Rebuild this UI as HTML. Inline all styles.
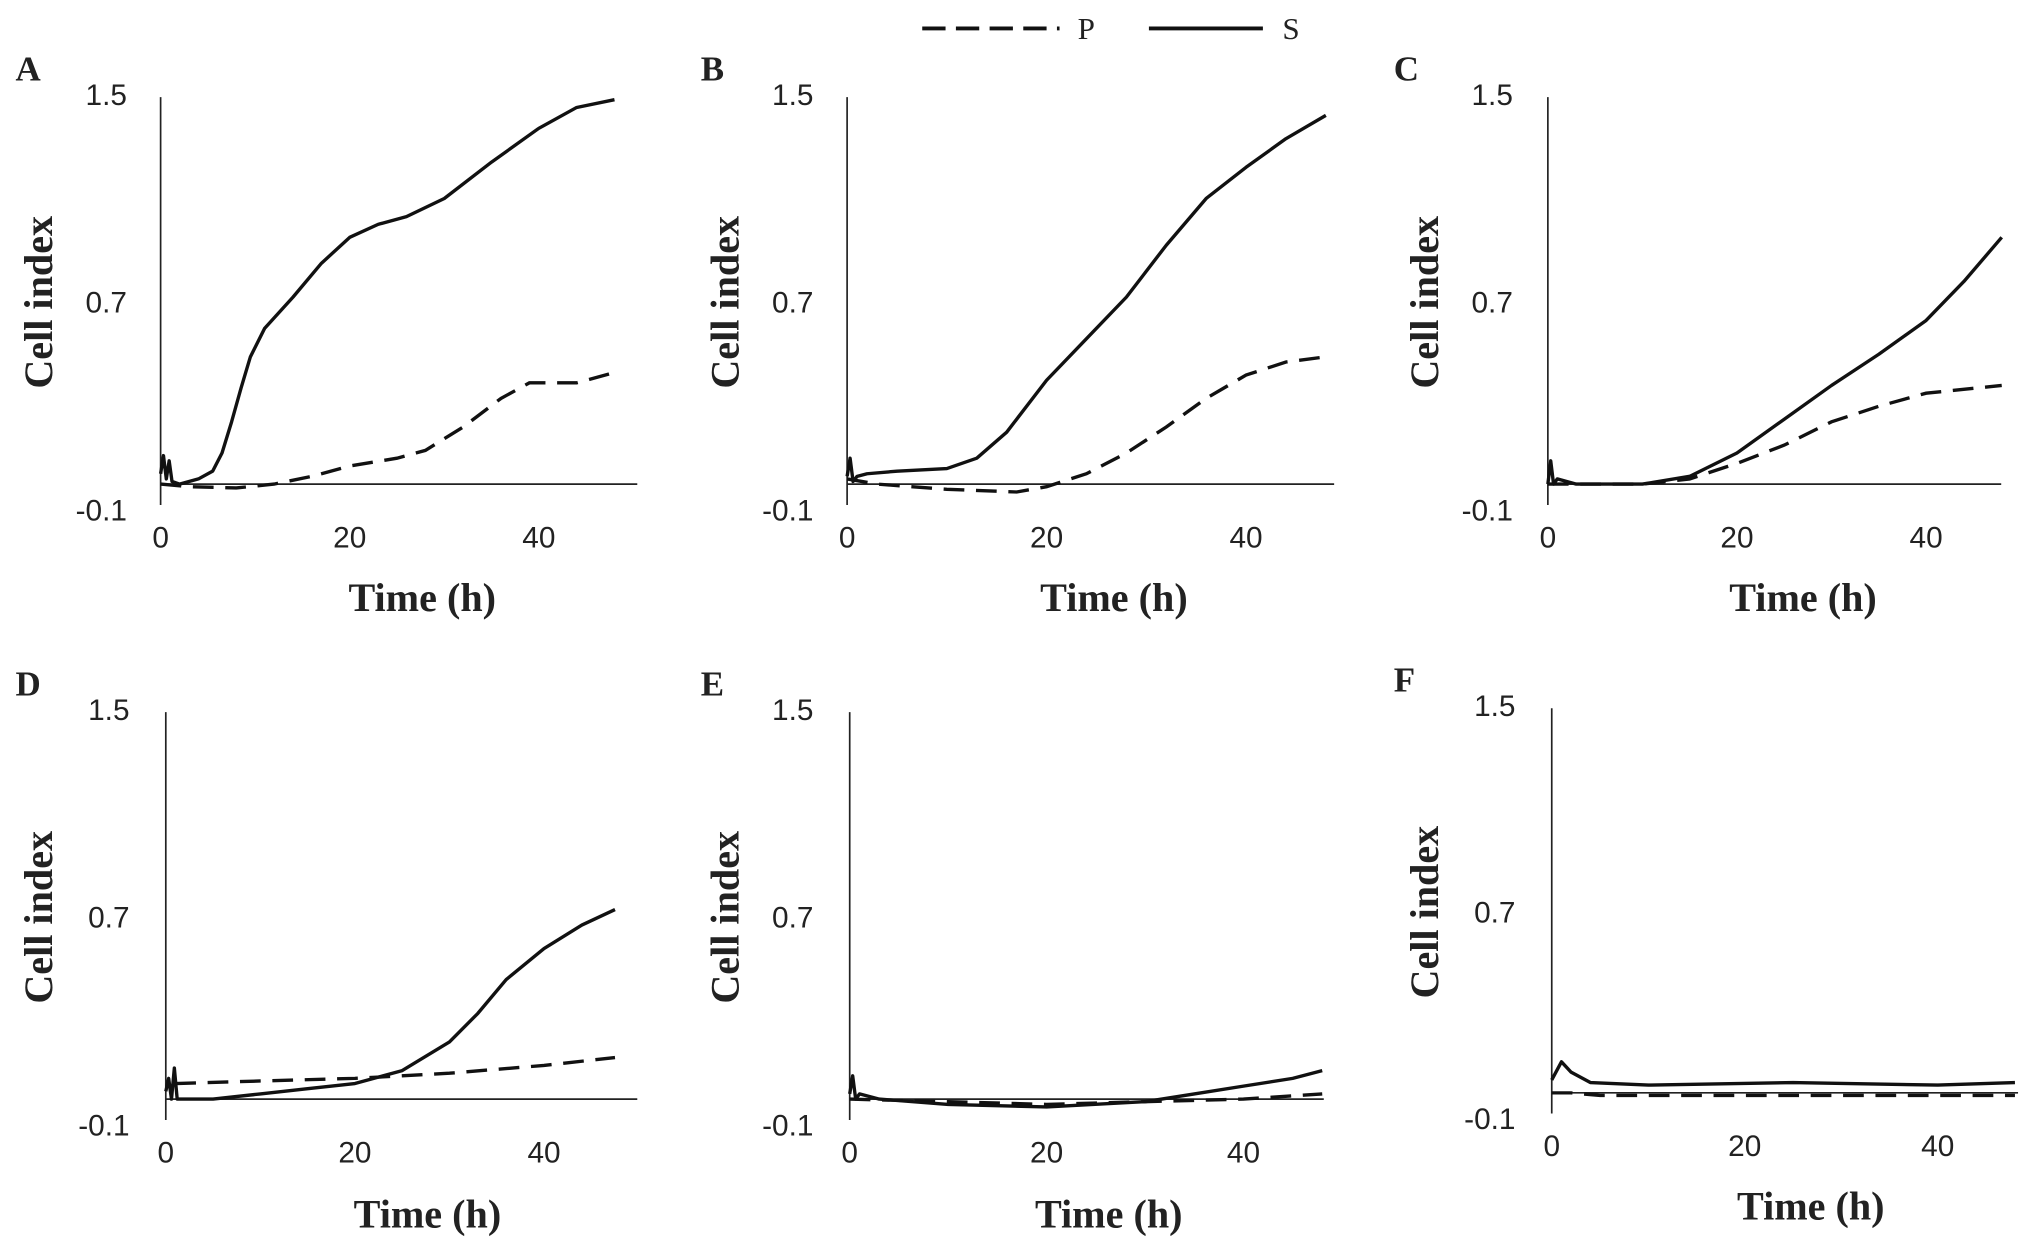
<!DOCTYPE html>
<html><head><meta charset="utf-8"><style>
html,body{margin:0;padding:0;background:#fff;}
svg{display:block;}
.tick{font-family:"Liberation Sans",sans-serif;font-size:23px;fill:#222;}
.title{font-family:"Liberation Serif",serif;font-weight:bold;font-size:31px;fill:#222;}
.letter{font-family:"Liberation Serif",serif;font-weight:bold;font-size:27px;fill:#222;}
</style></head><body>
<svg id="chart" width="2031" height="1252" viewBox="0 0 1568 967" preserveAspectRatio="none" xmlns="http://www.w3.org/2000/svg">
<g>
<line x1="712" y1="22" x2="818" y2="22" stroke="#111" stroke-width="3" stroke-dasharray="18,8"/>
<text class="letter" x="832" y="30" style="font-weight:normal;font-size:24px">P</text>
<line x1="887" y1="22" x2="975" y2="22" stroke="#111" stroke-width="3"/>
<text class="letter" x="990" y="30" style="font-weight:normal;font-size:24px">S</text>
</g>
</svg>
<script>
const panelNames=["A","B","C","D","E","F"];
const yTicks=[1.5,0.7,-0.1];
const xTicks=[0,20,40];
const solidA=[[0,0.04],[0.3,0.11],[0.6,0.02],[0.9,0.09],[1.2,0.01],[2,0.0],[4,0.02],[5.5,0.05],[6.5,0.12],[7.5,0.24],[8.5,0.37],[9.5,0.49],[11,0.6],[14,0.72],[17,0.85],[20,0.95],[23,1.0],[26,1.03],[30,1.1],[35,1.24],[40,1.37],[44,1.45],[48,1.48]];
const dashA=[[0,0.0],[3,-0.01],[8,-0.015],[12,0.0],[16,0.03],[20,0.07],[25,0.1],[28,0.13],[32,0.22],[36,0.33],[39,0.39],[44,0.39],[48,0.43]];
const solidB=[[0,0.03],[0.3,0.1],[0.6,0.01],[1,0.03],[2,0.04],[5,0.05],[10,0.06],[13,0.1],[16,0.2],[20,0.4],[24,0.56],[28,0.72],[32,0.92],[36,1.1],[40,1.22],[44,1.33],[48,1.42]];
const dashB=[[0,0.02],[3,0.0],[10,-0.02],[17,-0.03],[20,-0.01],[24,0.04],[28,0.12],[32,0.22],[36,0.33],[40,0.42],[44,0.47],[48,0.49]];
const solidC=[[0,0.0],[0.3,0.09],[0.6,0.0],[1,0.02],[3,0.0],[10,0.0],[15,0.03],[20,0.12],[25,0.25],[30,0.38],[35,0.5],[40,0.63],[44,0.78],[48,0.95]];
const dashC=[[0,0.0],[10,0.0],[15,0.02],[20,0.08],[25,0.15],[30,0.24],[35,0.3],[40,0.35],[48,0.38]];
const solidD=[[0,0.03],[0.3,0.08],[0.6,0.0],[0.9,0.12],[1.2,0.0],[5,0.0],[10,0.02],[15,0.04],[20,0.06],[25,0.11],[30,0.22],[33,0.33],[36,0.46],[40,0.58],[44,0.67],[47.5,0.73]];
const dashD=[[1,0.06],[10,0.07],[20,0.08],[30,0.1],[40,0.13],[47.5,0.16]];
const solidE=[[0,0.02],[0.3,0.09],[0.6,0.0],[1,0.02],[3,0.0],[10,-0.02],[20,-0.03],[30,-0.01],[35,0.02],[40,0.05],[45,0.08],[48,0.11]];
const dashE=[[0,0.0],[10,-0.01],[20,-0.02],[30,-0.01],[40,0.0],[48,0.02]];
const solidF=[[0,0.05],[1,0.12],[2,0.08],[4,0.04],[10,0.03],[25,0.04],[40,0.03],[48,0.04]];
const dashF=[[0,0.0],[2,0.0],[5,-0.01],[48,-0.01]];
const solids=[solidA,solidB,solidC,solidD,solidE,solidF];
const dashes=[dashA,dashB,dashC,dashD,dashE,dashF];
const layout=[
 {ax:124,x20:270,end:492,top:73,bot:394,lx:12,ly:62,tx:326,ty:472,cx:30,ylx:98},
 {ax:654,x20:808,end:1030,top:73,bot:394,lx:541,ly:62,tx:860,ty:472,cx:560,ylx:628},
 {ax:1195,x20:1341,end:1545,top:73,bot:394,lx:1076,ly:62,tx:1392,ty:472,cx:1100,ylx:1168},
 {ax:128,x20:274,end:492,top:548,bot:869,lx:12,ly:537,tx:330,ty:948,cx:30,ylx:100},
 {ax:656,x20:808,end:1022,top:548,bot:869,lx:541,ly:537,tx:856,ty:948,cx:560,ylx:628},
 {ax:1198,x20:1347,end:1558,top:545,bot:864,lx:1076,ly:534,tx:1398,ty:942,cx:1100,ylx:1170}
];
const NS="http://www.w3.org/2000/svg";
const svg=document.getElementById('chart');
function mk(t,a,p){const e=document.createElementNS(NS,t);for(const k in a)e.setAttribute(k,a[k]);p.appendChild(e);return e;}
layout.forEach((L,i)=>{
 const g=mk('g',{},svg);
 
 
 const xs=t=>L.ax+(L.x20-L.ax)*t/20;
 const ys=v=>L.top+(1.5-v)*(L.bot-L.top)/1.6;
 const ya=mk('line',{x1:L.ax,x2:L.ax,y1:ys(1.5)+2,y2:ys(-0.1)-4,stroke:'#222','stroke-width':1.3},g);
 
 
 const xa=mk('line',{x1:L.ax,x2:L.end,y1:ys(0),y2:ys(0),stroke:'#222','stroke-width':1.3},g);
 
 
 yTicks.forEach(v=>{const t=mk('text',{class:'tick',x:L.ylx,y:ys(v)+8,'text-anchor':'end'},g);t.textContent=String(v);
  
  });
 xTicks.forEach(v=>{const t=mk('text',{class:'tick',x:xs(v),y:ys(-0.1)+29,'text-anchor':'middle'},g);t.textContent=String(v);
  
  });
 const tt=mk('text',{class:'title',x:L.tx,y:L.ty,'text-anchor':'middle'},g);tt.textContent='Time (h)';
 
 
 const cy=(ys(1.5)+ys(-0.1))/2;
 const ct=mk('text',{class:'title',x:0,y:0,'text-anchor':'middle',transform:`translate(${L.cx+10},${cy}) rotate(-90)`},g);ct.textContent='Cell index';
 
 
 const lt=mk('text',{class:'letter',x:L.lx,y:L.ly},g);lt.textContent=panelNames[i];
 
 
 const d=dashes[i].map((p,j)=>(j?'L':'M')+xs(p[0]).toFixed(1)+','+ys(p[1]).toFixed(1)).join('');
 const dp=mk('path',{d:d,fill:'none',stroke:'#111','stroke-width':2.6,'stroke-dasharray':'16,9'},g);
 
 
 const s=solids[i].map((p,j)=>(j?'L':'M')+xs(p[0]).toFixed(1)+','+ys(p[1]).toFixed(1)).join('');
 const sp=mk('path',{d:s,fill:'none',stroke:'#111','stroke-width':2.6,'stroke-linejoin':'round'},g);
 
 
});
</script>
</body></html>
